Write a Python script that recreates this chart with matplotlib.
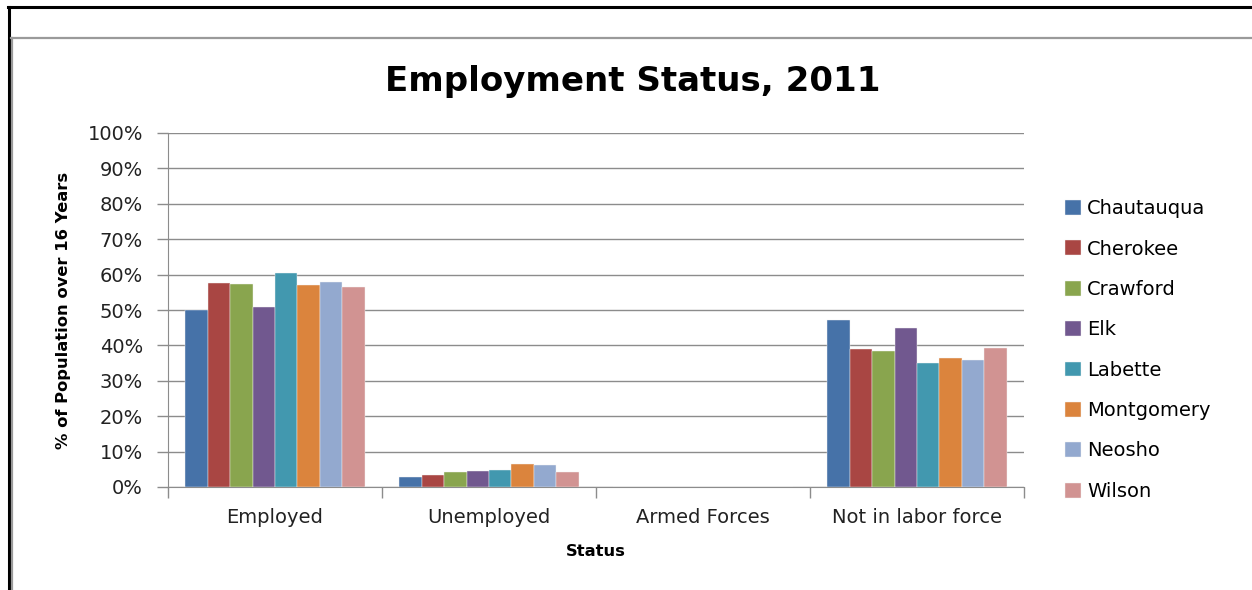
import numpy as np
import matplotlib
matplotlib.use("Agg")
from matplotlib import pyplot as plt
from matplotlib.lines import Line2D
from matplotlib.ticker import FixedLocator, PercentFormatter

# data: share of population over 16 years, by county
status = ["Employed", "Unemployed", "Armed Forces", "Not in labor force"]
counties = ["Chautauqua", "Cherokee", "Crawford", "Elk",
            "Labette", "Montgomery", "Neosho", "Wilson"]
employed = [50.0, 57.7, 57.4, 50.9, 60.5, 57.1, 58.0, 56.5]
unemployed = [2.8, 3.5, 4.1, 4.4, 4.8, 6.6, 6.3, 4.1]
armed_forces = [0.0, 0.0, 0.0, 0.0, 0.0, 0.0, 0.0, 0.0]
not_in_labor = [47.3, 39.0, 38.4, 44.8, 35.0, 36.3, 35.9, 39.3]
yticks = [0, 10, 20, 30, 40, 50, 60, 70, 80, 90, 100]

colors = ["#4672A8", "#A94643", "#89A54E", "#71588F",
          "#4298AF", "#DB843D", "#93A9CF", "#D19392"]

values = np.array([employed, unemployed, armed_forces, not_in_labor])  # status x county

W, H = 1252, 590
fig = plt.figure(figsize=(W / 100, H / 100), dpi=100)
ax = fig.add_axes([168 / W, 103 / H, 856 / W, 354 / H])

x = np.arange(len(status))
n = len(counties)
bw = 0.84 / n
for i, name in enumerate(counties):
    ax.bar(x - 0.42 + bw * (i + 0.5), values[:, i], width=bw, color=colors[i],
           edgecolor="#f4f4f4", linewidth=0.3, label=name, zorder=3)

ax.set_xlim(-0.5, len(status) - 0.5)
ax.set_ylim(0, 100)
ax.set_yticks(yticks)
ax.yaxis.set_major_formatter(PercentFormatter(decimals=0))
ax.grid(axis="y", color="#8c8c8c", linewidth=1, zorder=0)

# category labels in the middle, tick marks between categories
ax.set_xticks(x)
ax.set_xticklabels(status)
ax.xaxis.set_minor_locator(FixedLocator(np.arange(len(status) + 1) - 0.5))
ax.tick_params(axis="x", which="major", length=0, pad=15, labelsize=14, labelcolor="#222222")
ax.tick_params(axis="x", which="minor", length=8, width=1, color="#8c8c8c", direction="out")
ax.tick_params(axis="y", length=8, width=1, color="#8c8c8c", pad=10, labelsize=14, labelcolor="#222222")

for side in ["top", "right"]:
    ax.spines[side].set_visible(False)
for side in ["left", "bottom"]:
    ax.spines[side].set_color("#8c8c8c")

ax.set_ylabel("% of Population over 16 Years", fontsize=11.8, fontweight="bold", labelpad=12)
ax.set_xlabel("Status", fontsize=11.8, fontweight="bold", labelpad=12)

fig.text(633 / W, 1 - 82 / H, "Employment Status, 2011", ha="center", va="center",
         fontsize=24.5, fontweight="bold")

ax.legend(loc="center left", bbox_to_anchor=(1065 / W, 1 - 350 / H),
          bbox_transform=fig.transFigure, frameon=False, fontsize=14,
          handlelength=0.8, handleheight=0.8, handletextpad=0.35,
          labelspacing=1.1, borderpad=0, borderaxespad=0)

# window frame
fig.add_artist(Line2D([8 / W, 1], [1 - 7 / H, 1 - 7 / H], color="black", lw=2.2))
fig.add_artist(Line2D([9 / W, 9 / W], [0, 1 - 7 / H], color="black", lw=2.2))
fig.add_artist(Line2D([11 / W, 1], [1 - 38 / H, 1 - 38 / H], color="#9a9a9a", lw=1.6))
fig.add_artist(Line2D([12 / W, 12 / W], [0, 1 - 38 / H], color="#9a9a9a", lw=1.6))

fig.savefig("out.png", dpi=100)
